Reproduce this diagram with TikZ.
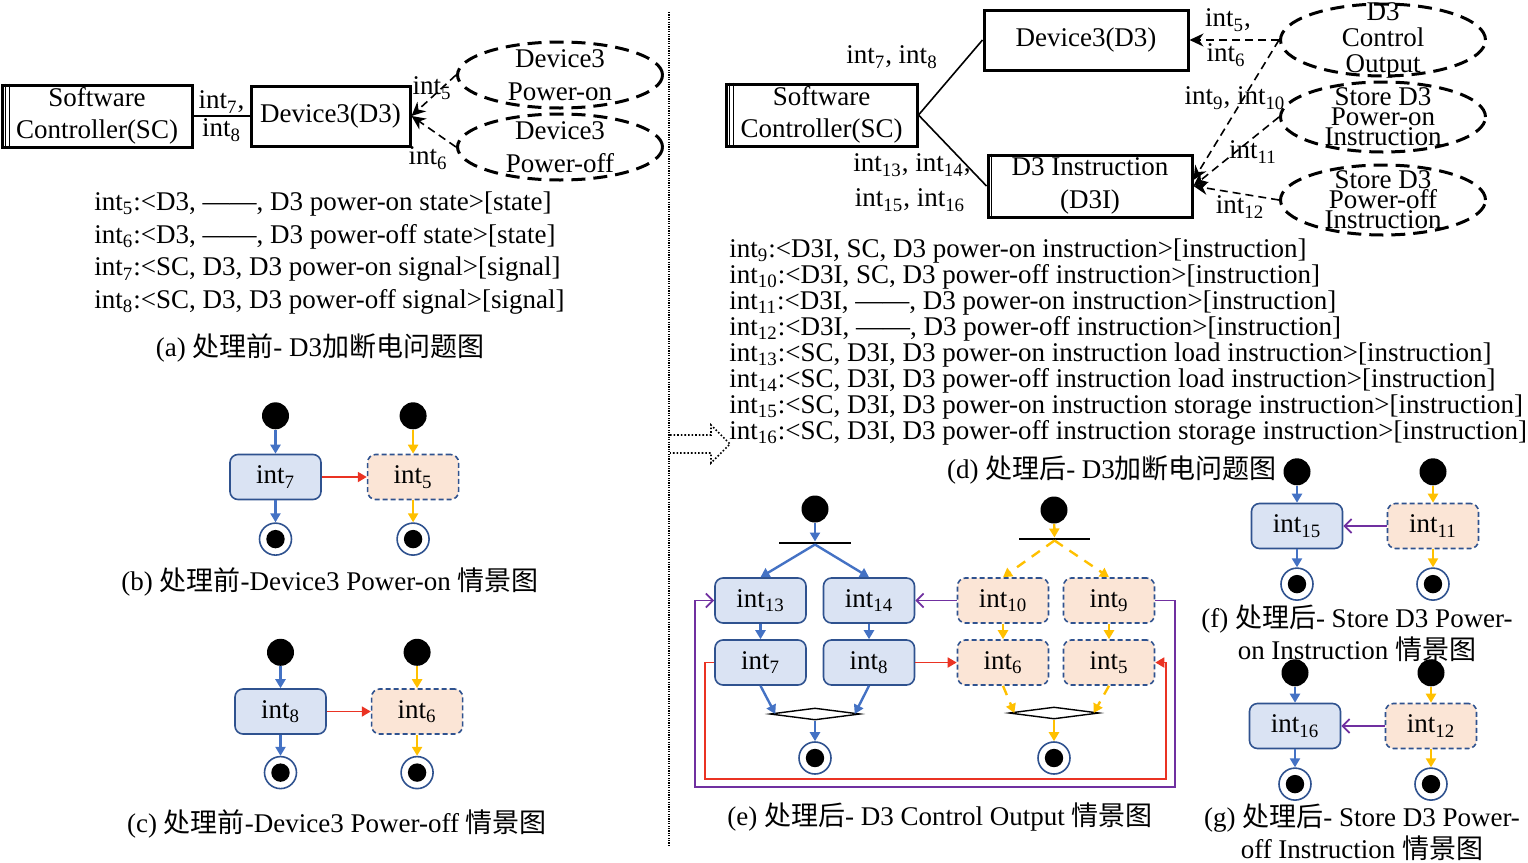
\documentclass[tikz,border=0pt]{standalone}
\usepackage{fontspec}
\setmainfont{Liberation Serif}
\newfontfamily\cjk{Noto Sans CJK SC}
\usetikzlibrary{shapes.geometric,arrows.meta,positioning}
\definecolor{actblue}{RGB}{218,227,243}
\definecolor{actpeach}{RGB}{251,229,214}
\definecolor{actedge}{RGB}{47,82,143}
\definecolor{flowblue}{RGB}{68,114,196}
\definecolor{flowyellow}{RGB}{255,192,0}
\definecolor{flowred}{RGB}{234,51,35}
\definecolor{flowpurple}{RGB}{112,48,160}
\newcommand{\intn}[1]{int\textsubscript{#1}}

\begin{document}
\begin{tikzpicture}[x=0.5pt,y=-0.5pt,
    font=\fontsize{13.5}{16.3}\selectfont,
    sysbox/.style={draw,line width=1.5pt,align=center,inner sep=0pt,
                   minimum width=95pt,minimum height=31pt},
    devbox/.style={draw,line width=1.5pt,align=center,inner sep=0pt,
                   minimum width=102pt,minimum height=30pt},
    ell/.style={ellipse,draw,line width=1.5pt,dash pattern=on 7pt off 4pt,
                minimum width=102.5pt,minimum height=33pt,inner sep=0pt},
    act/.style={draw=actedge,fill=actblue,rounded corners=4pt,line width=0.8pt,
                minimum width=45.5pt,minimum height=22.5pt,inner sep=0pt},
    actd/.style={act,fill=actpeach,dash pattern=on 2.5pt off 1.5pt},
    initdot/.style={circle,fill=black,minimum size=13.5pt,inner sep=0pt},
    finaldot/.style={circle,draw=actedge,fill=white,line width=0.8pt,
                     minimum size=16pt,inner sep=0pt,
                     path picture={\fill[black] (path picture bounding box.center) circle (4.6pt);}},
    forkbar/.style={fill=black,minimum width=36pt,minimum height=1.1pt,inner sep=0pt},
    merge/.style={diamond,draw,line width=0.7pt,minimum width=45pt,
                  minimum height=6pt,inner sep=0pt},
    barr/.style={-{Triangle[length=4.5pt,width=5pt]},line width=1.2pt,flowblue},
    yarr/.style={barr,flowyellow},
    yarrd/.style={yarr,dash pattern=on 5pt off 4pt},
    rarr/.style={-{Triangle[length=4.5pt,width=5pt]},line width=0.9pt,flowred},
    parr/.style={-{Straight Barb[length=3.5pt,width=7pt]},line width=0.9pt,flowpurple},
    darr/.style={-{Stealth[length=7pt,width=6.5pt]},line width=0.8pt,
                 dash pattern=on 4pt off 2.5pt},
    link/.style={line width=0.8pt},
    lbl/.style={inner sep=1pt},
    captxt/.style={inner sep=0pt,align=center}
  ]
    \useasboundingbox (0,0) rectangle (1528,863);

    % (a) before: problem diagram
    \node[sysbox] (sca) at (97,116) {Software\\Controller(SC)};
    \node[devbox,minimum width=79.5pt,right=28pt of sca] (d3a) {Device3(D3)};
    \node[ell,label={[align=center]center:Device3\\Power-on}] (pon) at (560,75) {};
    \node[ell,label={[align=center]center:Device3\\Power-off}] (poff) at (560,147) {};
    \draw[link] (sca) -- (d3a) node[midway,above,lbl] {\intn{7},}
                               node[midway,below,lbl] {\intn{8}};
    \draw[darr] (pon.west) -- (d3a.east);
    \draw[darr] (poff.west) -- (d3a.east);
    \node[lbl] at (432,88) {\intn{5}};
    \node[lbl] at (428,158) {\intn{6}};

    \node[align=left,anchor=west,inner sep=0pt] (txa) at (94,253)
      {\intn{5}:<D3, ——, D3 power-on state>[state]\\
       \intn{6}:<D3, ——, D3 power-off state>[state]\\
       \intn{7}:<SC, D3, D3 power-on signal>[signal]\\
       \intn{8}:<SC, D3, D3 power-off signal>[signal]};
    \node[captxt] (capa) at (320,348) {(a) {\cjk 处理前}- D3{\cjk 加断电问题图}};

    % (b) before: power-on scenario
    \node[act] (b7) at (275.5,477) {\intn{7}};
    \node[actd,right=22.5pt of b7] (b5) {\intn{5}};
    \node[initdot,above=12pt of b7] (bi7) {};
    \node[initdot,above=12pt of b5] (bi5) {};
    \node[finaldot,below=11pt of b7] (bf7) {};
    \node[finaldot,below=11pt of b5] (bf5) {};
    \draw[barr] (bi7) -- (b7);
    \draw[barr] (b7) -- (bf7);
    \draw[yarr] (bi5) -- (b5);
    \draw[yarr] (b5) -- (bf5);
    \draw[rarr] (b7) -- (b5);
    \node[captxt] (capb) at (330,582) {(b) {\cjk 处理前}-Device3 Power-on {\cjk 情景图}};

    % (c) before: power-off scenario
    \node[act] (c8) at (280.5,711.5) {\intn{8}};
    \node[actd,right=22pt of c8] (c6) {\intn{6}};
    \node[initdot,above=11pt of c8] (ci8) {};
    \node[initdot,above=11pt of c6] (ci6) {};
    \node[finaldot,below=10.5pt of c8] (cf8) {};
    \node[finaldot,below=10.5pt of c6] (cf6) {};
    \draw[barr] (ci8) -- (c8);
    \draw[barr] (c8) -- (cf8);
    \draw[yarr] (ci6) -- (c6);
    \draw[yarr] (c6) -- (cf6);
    \draw[rarr] (c8) -- (c6);
    \node[captxt] (capc) at (337,824) {(c) {\cjk 处理前}-Device3 Power-off {\cjk 情景图}};

    % separator and transform arrow
    \draw[line width=1pt,dash pattern=on 0.6pt off 0.6pt] (669,12) -- (669,845);
    \draw[line width=0.8pt,densely dotted] (670,435) -- (711,435) -- (711,425)
      -- (730,444) -- (711,463) -- (711,453) -- (670,453);

    % (d) after: problem diagram
    \node[sysbox,minimum width=95.5pt] (scd) at (821.5,115) {Software\\Controller(SC)};
    \node[devbox] (d3d) at (1086,40) {Device3(D3)};
    \node[devbox,minimum height=31pt] (d3i) at (1090,186) {D3 Instruction\\(D3I)};
    \node[ell,minimum height=36pt,
          label={[align=center,font=\fontsize{13.5}{13}\selectfont]center:D3\\Control\\Output}]
          (ctl) at (1383,40) {};
    \node[ell,minimum height=35pt,
          label={[align=center,font=\fontsize{13.5}{10}\selectfont]center:Store D3\\Power-on\\Instruction}]
          (spw) at (1383,117) {};
    \node[ell,minimum height=35pt,
          label={[align=center,font=\fontsize{13.5}{10}\selectfont]center:Store D3\\Power-off\\Instruction}]
          (spf) at (1383,200) {};
    \draw[link] (scd.east) -- (d3d.west);
    \draw[link] (scd.east) -- (d3i.west);
    \node[lbl] at (892,57) {\intn{7}, \intn{8}};
    \node[lbl] at (912,165) {\intn{13}, \intn{14},};
    \node[lbl] at (910,200) {\intn{15}, \intn{16}};
    \draw[darr] (ctl.west) -- (d3d.east);
    \draw[darr] (ctl.west) -- ([yshift=3pt]d3i.east);
    \draw[darr] (spw.west) -- (d3i.east);
    \draw[darr] (spf.west) -- (d3i.east);
    \node[lbl] at (1228,20) {\intn{5},};
    \node[lbl] at (1226,55) {\intn{6}};
    \node[lbl] at (1235,98) {\intn{9}, \intn{10}};
    \node[lbl] at (1253,152) {\intn{11}};
    \node[lbl] at (1240,207) {\intn{12}};

    \node[align=left,anchor=west,inner sep=0pt,font=\fontsize{13.5}{13}\selectfont]
      (txd) at (729,342)
      {\intn{9}:<D3I, SC, D3 power-on instruction>[instruction]\\
       \intn{10}:<D3I, SC, D3 power-off instruction>[instruction]\\
       \intn{11}:<D3I, ——, D3 power-on instruction>[instruction]\\
       \intn{12}:<D3I, ——, D3 power-off instruction>[instruction]\\
       \intn{13}:<SC, D3I, D3 power-on instruction load instruction>[instruction]\\
       \intn{14}:<SC, D3I, D3 power-off instruction load instruction>[instruction]\\
       \intn{15}:<SC, D3I, D3 power-on instruction storage instruction>[instruction]\\
       \intn{16}:<SC, D3I, D3 power-off instruction storage instruction>[instruction]};
    \node[captxt] (capd) at (1112,470) {(d) {\cjk 处理后}- D3{\cjk 加断电问题图}};

    % (e) after: control output scenario
    \node[act] (e13) at (760.5,600.5) {\intn{13}};
    \node[act] (e14) at (869,600.5) {\intn{14}};
    \node[act] (e7) at (760.5,662.5) {\intn{7}};
    \node[act] (e8) at (869,662.5) {\intn{8}};
    \node[actd] (e10) at (1003,600.5) {\intn{10}};
    \node[actd] (e9) at (1109,600.5) {\intn{9}};
    \node[actd] (e6) at (1003,662.5) {\intn{6}};
    \node[actd] (e5) at (1109,662.5) {\intn{5}};
    \node[initdot] (ei1) at (815,509) {};
    \node[forkbar] (fk1) at (815,543) {};
    \node[merge] (mg1) at (815,714) {};
    \node[finaldot] (ef1) at (815,758) {};
    \node[initdot] (ei2) at (1054,510) {};
    \node[forkbar,minimum width=35.5pt] (fk2) at (1054.5,539) {};
    \node[merge] (mg2) at (1054,713) {};
    \node[finaldot] (ef2) at (1054,758) {};

    \draw[barr] (ei1) -- (fk1);
    \draw[barr] (fk1.south) -- (e13.north);
    \draw[barr] (fk1.south) -- (e14.north);
    \draw[barr] (e13) -- (e7);
    \draw[barr] (e14) -- (e8);
    \draw[barr] (e7.south) -- ([xshift=3pt]mg1.west);
    \draw[barr] (e8.south) -- ([xshift=-3pt]mg1.east);
    \draw[barr] (mg1) -- (ef1);
    \draw[yarr] (ei2) -- (fk2);
    \draw[yarrd] (fk2.south) -- (e10.north);
    \draw[yarrd] (fk2.south) -- (e9.north);
    \draw[yarr] (e10) -- (e6);
    \draw[yarr] (e9) -- (e5);
    \draw[yarrd] (e6.south) -- ([xshift=3pt]mg2.west);
    \draw[yarrd] (e5.south) -- ([xshift=-3pt]mg2.east);
    \draw[yarr] (mg2) -- (ef2);

    \coordinate (pl1) at (1175,787);
    \coordinate (pl2) at (695,787);
    \coordinate (rl1) at (1166,779);
    \coordinate (rl2) at (705,779);
    \draw[parr] (e10) -- (e14);
    \draw[parr] (e9.east) -| (pl1) -- (pl2) |- (e13.west);
    \draw[rarr] (e8) -- (e6);
    \draw[rarr] (e7.west) -| (rl2) -- (rl1) |- (e5.east);
    \node[captxt] (cape) at (940,817) {(e) {\cjk 处理后}- D3 Control Output {\cjk 情景图}};

    % (f) after: store power-on instruction
    \node[act] (f15) at (1297,526) {\intn{15}};
    \node[actd] (f11) at (1433,526) {\intn{11}};
    \node[initdot,above=8.5pt of f15] (fi15) {};
    \node[initdot,above=8.5pt of f11] (fi11) {};
    \node[finaldot,below=9pt of f15] (ff15) {};
    \node[finaldot,below=9pt of f11] (ff11) {};
    \draw[barr] (fi15) -- (f15);
    \draw[barr] (f15) -- (ff15);
    \draw[yarr] (fi11) -- (f11);
    \draw[yarr] (f11) -- (ff11);
    \draw[parr] (f11) -- (f15);
    \node[captxt,font=\fontsize{13.5}{16}\selectfont] (capf) at (1357,633)
      {(f) {\cjk 处理后}- Store D3 Power-\\on Instruction {\cjk 情景图}};

    % (g) after: store power-off instruction
    \node[act] (g16) at (1295,726) {\intn{16}};
    \node[actd] (g12) at (1431,726) {\intn{12}};
    \node[initdot,above=8pt of g16] (gi16) {};
    \node[initdot,above=8pt of g12] (gi12) {};
    \node[finaldot,below=9pt of g16] (gf16) {};
    \node[finaldot,below=9pt of g12] (gf12) {};
    \draw[barr] (gi16) -- (g16);
    \draw[barr] (g16) -- (gf16);
    \draw[yarr] (gi12) -- (g12);
    \draw[yarr] (g12) -- (gf12);
    \draw[parr] (g12) -- (g16);
    \node[captxt,font=\fontsize{13.5}{16}\selectfont] (capg) at (1362,832.5)
      {(g) {\cjk 处理后}- Store D3 Power-\\off Instruction {\cjk 情景图}};

    % extra rules on system boxes
    \foreach \b in {sca,scd}{
      \draw[line width=0.6pt] ([xshift=2.6pt]\b.north west) -- ([xshift=2.6pt]\b.south west);
      \draw[line width=0.6pt] ([xshift=4.4pt]\b.north west) -- ([xshift=4.4pt]\b.south west);
    }
    \draw[line width=0.6pt] ([xshift=2.6pt]d3i.north west) -- ([xshift=2.6pt]d3i.south west);
  \end{tikzpicture}
\end{document}
